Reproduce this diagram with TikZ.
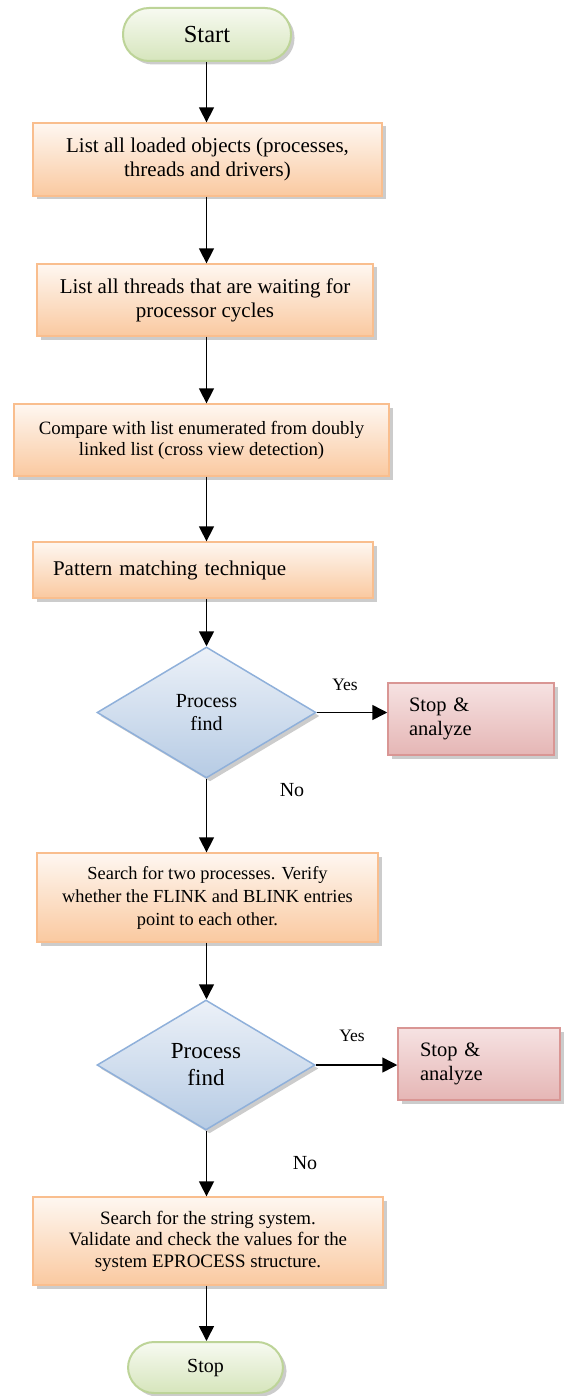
\documentclass[tikz,border=0pt]{standalone}
\usepackage{fontspec}
\setmainfont{Liberation Serif}
\usetikzlibrary{shapes.geometric,shadows,arrows.meta,calc}
\definecolor{boxborder}{HTML}{F9BE8E}
\definecolor{boxtop}{HTML}{FEF7F1}
\definecolor{boxbot}{HTML}{FAC9A0}
\definecolor{pillborder}{HTML}{BDD498}
\definecolor{pilltop}{HTML}{F7FAF1}
\definecolor{pillbot}{HTML}{D6E5BC}
\definecolor{diaborder}{HTML}{8FB0DA}
\definecolor{diatop}{HTML}{ECF1F8}
\definecolor{diabot}{HTML}{B6CBE4}
\definecolor{stopborder}{HTML}{D99694}
\definecolor{stoptop}{HTML}{F6E2E2}
\definecolor{stopbot}{HTML}{E5B6B5}
\begin{document}
\begin{tikzpicture}[x=1pt,y=-1pt,
  shade/.style={drop shadow={shadow xshift=3.5pt,shadow yshift=-3.5pt,fill=black!40}},
  procbox/.style={shade,draw=boxborder,line width=1.3pt,top color=boxtop,bottom color=boxbot,
    inner sep=0pt,align=center},
  pill/.style={shade,draw=pillborder,line width=2pt,top color=pilltop,bottom color=pillbot,
    rounded corners=26pt,inner sep=0pt,align=center},
  decision/.style={shade,diamond,draw=diaborder,line width=1.5pt,top color=diatop,bottom color=diabot,
    inner sep=0pt,align=center},
  stopbox/.style={shade,draw=stopborder,line width=1.5pt,top color=stoptop,bottom color=stopbot,
    inner sep=0pt,align=left},
  arr/.style={line width=1.5pt,-{Triangle[width=15pt,length=15pt]}},
  lbl/.style={inner sep=0pt,font=\fontsize{17.5}{20}\selectfont}
]
\useasboundingbox (0,0) rectangle (568,1396);

\node[pill,minimum width=168pt,minimum height=53pt,font=\fontsize{24.5}{27}\selectfont] (start) at (207,34.5) {Start};

\node[procbox,minimum width=349pt,minimum height=73pt,font=\fontsize{21}{24}\selectfont] (b1) at (207.5,159.5)
  {List all loaded objects (processes,\\threads and drivers)};

\node[procbox,minimum width=336pt,minimum height=72pt,font=\fontsize{21}{24}\selectfont] (b2) at (205,300)
  {List all threads that are waiting for\\processor cycles};

\node[procbox,minimum width=375pt,minimum height=72pt,font=\fontsize{18.8}{21}\selectfont] (b3) at (201.5,440)
  {Compare with list enumerated from doubly\\linked list (cross view detection)};

\node[procbox,minimum width=340pt,minimum height=56pt,align=left,text width=300pt,inner xsep=20pt,
  font=\fontsize{21}{24}\selectfont] (b4) at (203,570)
  {Pattern matching technique};

\node[decision,minimum width=219pt,minimum height=131pt,font=\fontsize{20}{23}\selectfont] (d1) at (206.5,712.5)
  {Process\\find};

\node[stopbox,minimum width=166pt,minimum height=72pt,text width=124pt,inner xsep=21pt,
  font=\fontsize{20.5}{24}\selectfont] (s1) at (471,719)
  {Stop \&\\analyze};

\node[procbox,minimum width=341pt,minimum height=89pt,font=\fontsize{18.4}{23}\selectfont] (b5) at (207.5,897.5)
  {Search for two processes. Verify\\whether the FLINK and BLINK entries\\point to each other.};

\node[decision,minimum width=218pt,minimum height=130pt,font=\fontsize{23}{27}\selectfont] (d2) at (206,1065)
  {Process\\find};

\node[stopbox,minimum width=162pt,minimum height=72pt,text width=118pt,inner xsep=22pt,
  font=\fontsize{20.5}{24}\selectfont] (s2) at (479,1064)
  {Stop \&\\analyze};

\node[procbox,minimum width=350pt,minimum height=88pt,font=\fontsize{18.9}{21.5}\selectfont] (b6) at (208,1241)
  {Search for the string system.\\Validate and check the values for the\\system EPROCESS structure.};

\node[pill,minimum width=155pt,minimum height=51pt,font=\fontsize{20}{23}\selectfont] (stop) at (205.5,1367.5) {Stop};

% connectors
\draw[arr] (start.south -| d1) -- (b1.north -| d1);
\draw[arr] (b1.south -| d1) -- (b2.north -| d1);
\draw[arr] (b2.south -| d1) -- (b3.north -| d1);
\draw[arr] (b3.south -| d1) -- (b4.north -| d1);
\draw[arr] (b4.south -| d1) -- (d1.north);
\draw[arr] (d1.south) -- (b5.north -| d1);
\draw[arr] (b5.south -| d1) -- (d2.north -| d1);
\draw[arr] (d2.south -| d1) -- (b6.north -| d1);
\draw[arr] (b6.south -| d1) -- (stop.north -| d1);
\draw[arr] (d1.east) -- (d1.east -| s1.west);
\draw[arr] (d2.east) -- (d2.east -| s2.west);

\node[lbl] (yes1) at (345,685) {Yes};
\node[lbl,font=\fontsize{20}{22}\selectfont] (no1) at (292,790) {No};
\node[lbl] (yes2) at (352,1036) {Yes};
\node[lbl,font=\fontsize{20}{22}\selectfont] (no2) at (305,1163) {No};
\end{tikzpicture}
\end{document}
